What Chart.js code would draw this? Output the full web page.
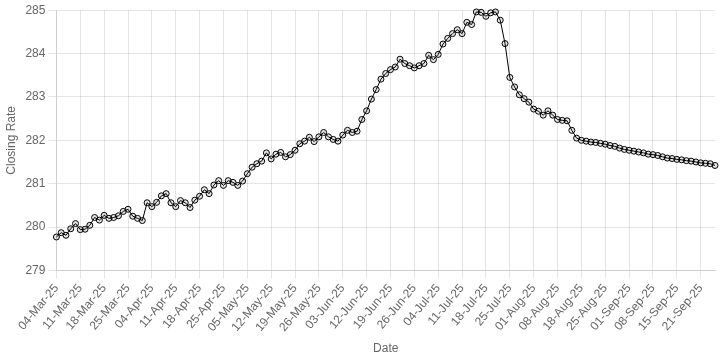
<!DOCTYPE html>
<html>
<head>
<meta charset="utf-8">
<title>Closing Rate</title>
<script src="https://cdn.jsdelivr.net/npm/chart.js@4"></script>
<style>
    html, body { margin: 0; padding: 0; background: #fff; }
    #wrap { width: 720px; height: 360px; }
</style>
</head>
<body>
<div id="wrap"><canvas id="rate-chart"></canvas></div>
<script>
// trading days (category axis)
const dates = [
    '04-Mar-25', '05-Mar-25', '06-Mar-25', '07-Mar-25', '10-Mar-25', '11-Mar-25', '12-Mar-25', '13-Mar-25', '14-Mar-25', '17-Mar-25',
    '18-Mar-25', '19-Mar-25', '20-Mar-25', '21-Mar-25', '24-Mar-25', '25-Mar-25', '26-Mar-25', '27-Mar-25', '28-Mar-25',
    '03-Apr-25', '04-Apr-25', '07-Apr-25', '08-Apr-25', '09-Apr-25', '10-Apr-25', '11-Apr-25', '14-Apr-25', '15-Apr-25', '16-Apr-25',
    '17-Apr-25', '18-Apr-25', '21-Apr-25', '22-Apr-25', '23-Apr-25', '24-Apr-25', '25-Apr-25', '28-Apr-25', '29-Apr-25', '30-Apr-25',
    '02-May-25', '05-May-25', '06-May-25', '07-May-25', '08-May-25', '09-May-25', '12-May-25', '13-May-25', '14-May-25', '15-May-25',
    '16-May-25', '19-May-25', '20-May-25', '21-May-25', '22-May-25', '23-May-25', '26-May-25', '27-May-25', '29-May-25', '30-May-25',
    '02-Jun-25', '03-Jun-25', '04-Jun-25', '05-Jun-25', '10-Jun-25', '11-Jun-25', '12-Jun-25', '13-Jun-25', '16-Jun-25', '17-Jun-25',
    '18-Jun-25', '19-Jun-25', '20-Jun-25', '23-Jun-25', '24-Jun-25', '25-Jun-25', '26-Jun-25', '27-Jun-25', '30-Jun-25',
    '02-Jul-25', '03-Jul-25', '04-Jul-25', '07-Jul-25', '08-Jul-25', '09-Jul-25', '10-Jul-25', '11-Jul-25', '14-Jul-25', '15-Jul-25',
    '16-Jul-25', '17-Jul-25', '18-Jul-25', '21-Jul-25', '22-Jul-25', '23-Jul-25', '24-Jul-25', '25-Jul-25', '28-Jul-25', '29-Jul-25',
    '30-Jul-25', '31-Jul-25',
    '01-Aug-25', '04-Aug-25', '05-Aug-25', '06-Aug-25', '07-Aug-25', '08-Aug-25', '11-Aug-25', '12-Aug-25', '13-Aug-25', '15-Aug-25',
    '18-Aug-25', '19-Aug-25', '20-Aug-25', '21-Aug-25', '22-Aug-25', '25-Aug-25', '26-Aug-25', '27-Aug-25', '28-Aug-25', '29-Aug-25',
    '01-Sep-25', '02-Sep-25', '03-Sep-25', '04-Sep-25', '05-Sep-25', '08-Sep-25', '09-Sep-25', '10-Sep-25', '11-Sep-25', '12-Sep-25',
    '15-Sep-25', '16-Sep-25', '17-Sep-25', '18-Sep-25', '19-Sep-25', '21-Sep-25', '22-Sep-25', '23-Sep-25', '24-Sep-25'
];

// closing rate
const closingRates = [
    279.77, 279.87, 279.81, 279.96, 280.08, 279.94, 279.95, 280.04, 280.22, 280.16,
    280.27, 280.20, 280.22, 280.26, 280.36, 280.41, 280.25, 280.20, 280.15, 280.56,
    280.47, 280.57, 280.72, 280.77, 280.56, 280.47, 280.61, 280.56, 280.45, 280.62,
    280.71, 280.86, 280.77, 280.97, 281.07, 280.96, 281.07, 281.03, 280.96, 281.06,
    281.23, 281.38, 281.46, 281.52, 281.71, 281.57, 281.68, 281.72, 281.62, 281.67,
    281.77, 281.92, 281.98, 282.07, 281.97, 282.08, 282.18, 282.08, 282.02, 281.98,
    282.12, 282.23, 282.18, 282.21, 282.48, 282.68, 282.95, 283.17, 283.41, 283.54,
    283.63, 283.69, 283.87, 283.77, 283.72, 283.67, 283.72, 283.77, 283.96, 283.86,
    283.98, 284.22, 284.35, 284.46, 284.55, 284.46, 284.72, 284.67, 284.96, 284.95,
    284.86, 284.94, 284.96, 284.77, 284.23, 283.45, 283.23, 283.05, 282.96, 282.88,
    282.72, 282.67, 282.58, 282.68, 282.58, 282.48, 282.46, 282.45, 282.23, 282.05,
    282.00, 281.98, 281.96, 281.95, 281.93, 281.91, 281.88, 281.86, 281.82, 281.79,
    281.77, 281.75, 281.73, 281.71, 281.68, 281.67, 281.65, 281.62, 281.59, 281.58,
    281.56, 281.55, 281.53, 281.52, 281.50, 281.48, 281.47, 281.46, 281.42
];

const yMin = 279;
const yMax = 285;

let rateChart;

function initRateChart() {
    const ctx = document.getElementById('rate-chart').getContext('2d');
    rateChart = new Chart(ctx, {
        type: 'line',
        data: {
            labels: dates,
            datasets: [
                {
                    label: 'Closing Rate',
                    data: closingRates,
                    borderColor: '#000',
                    borderWidth: 1,
                    backgroundColor: 'rgba(0, 0, 0, 0.1)',
                    pointBorderColor: '#000',
                    pointBackgroundColor: 'rgba(0, 0, 0, 0.1)',
                    pointRadius: 3,
                    pointBorderWidth: 1,
                    fill: false,
                    tension: 0,
                    clip: false
                }
            ]
        },
        options: {
            responsive: true,
            maintainAspectRatio: false,
            animation: false,
            plugins: {
                legend: { display: false },
                tooltip: { enabled: false }
            },
            scales: {
                x: {
                    title: { display: true, text: 'Date' }
                },
                y: {
                    min: yMin,
                    max: yMax,
                    title: { display: true, text: 'Closing Rate' },
                    ticks: { stepSize: 1 }
                }
            }
        }
    });
}

document.addEventListener("DOMContentLoaded", function () {
    initRateChart();
});
</script>
</body>
</html>
